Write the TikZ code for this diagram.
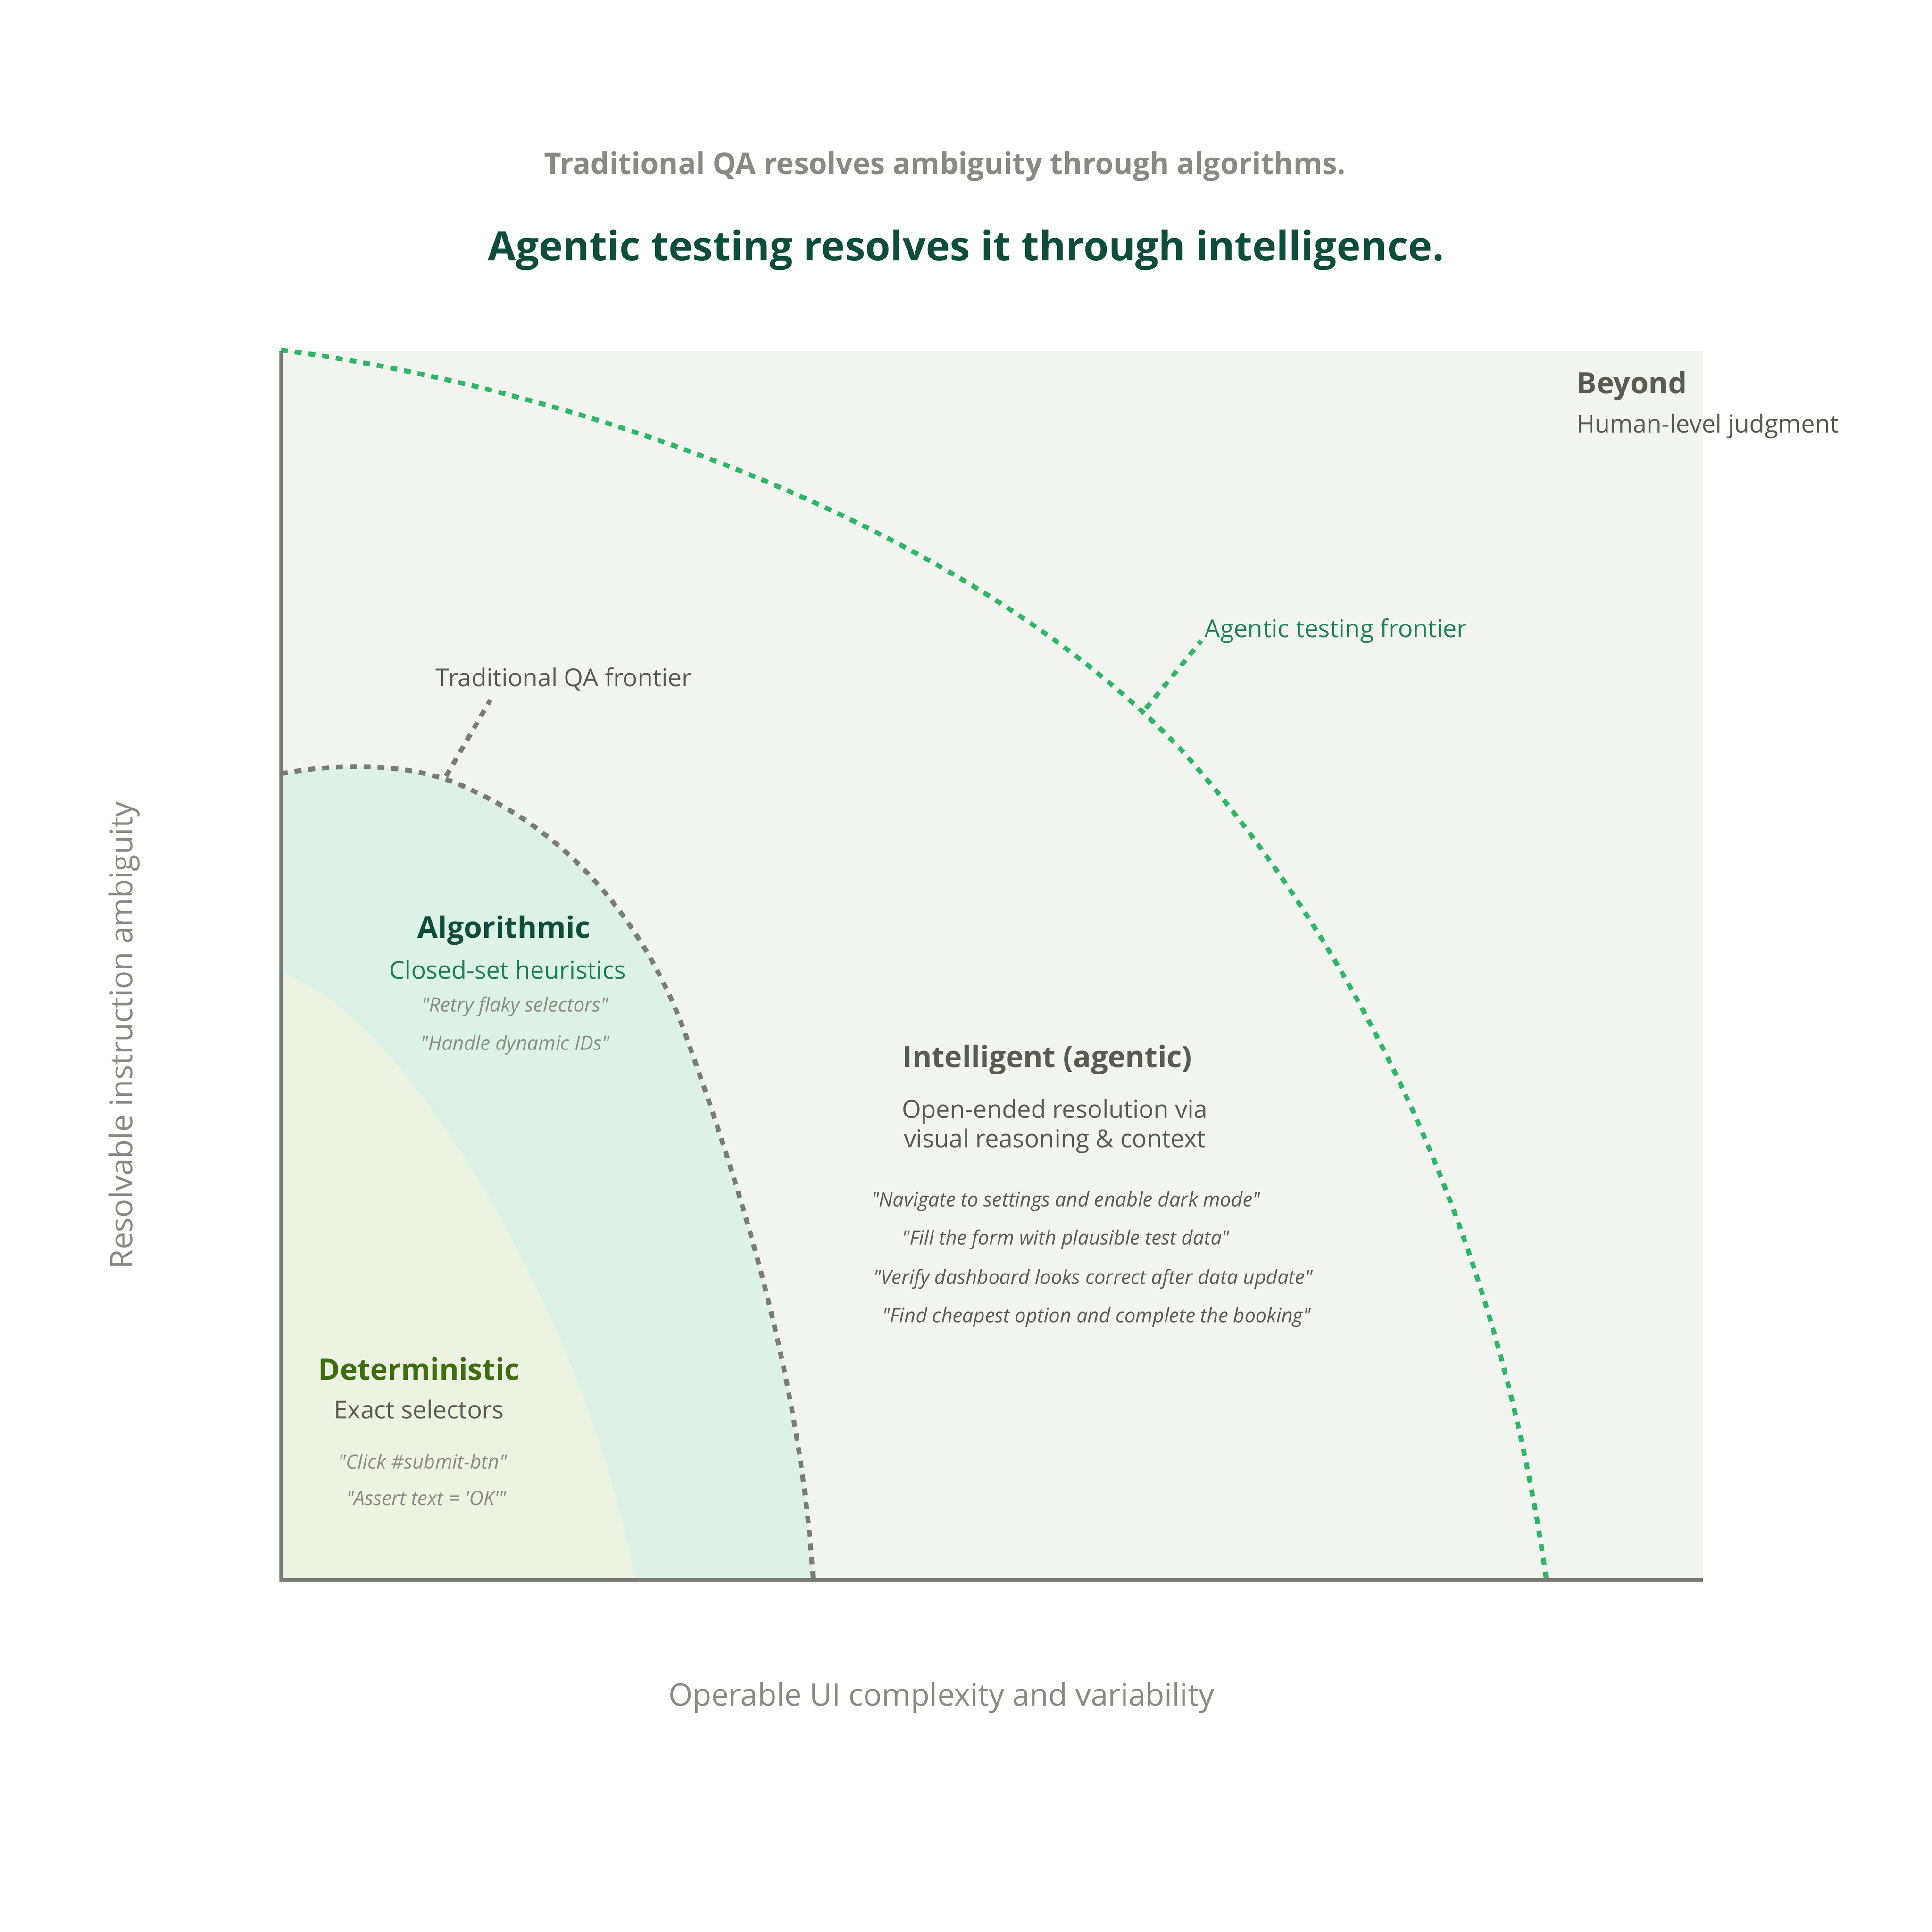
\documentclass[tikz,border=0pt]{standalone}
\usepackage{fontspec}
\setmainfont{Open Sans}
\begin{document}
\newcommand{\fpx}[1]{\fontsize{\dimexpr #1\dimexpr 0.2845pt\relax\relax}{\dimexpr #1\dimexpr 0.34pt\relax\relax}\selectfont}
\newcommand{\dq}{\textquotedbl}
\definecolor{bgc}{HTML}{F2F4EF}
\definecolor{detc}{HTML}{EDF3E3}
\definecolor{algc}{HTML}{DDF2E6}
\definecolor{agc}{HTML}{2DB665}
\definecolor{ttl}{HTML}{0E4D3A}
\definecolor{sub}{HTML}{8A8A84}
\definecolor{lab}{HTML}{5A5A55}
\definecolor{grn}{HTML}{1E7F5A}
\definecolor{detg}{HTML}{3F6E12}
\definecolor{axc}{HTML}{7A7A76}
\begin{tikzpicture}[x={(0.01cm,0)},y={(0,-0.01cm)},
  t/.style={inner sep=0pt},
  frontier/.style={line width=1.1pt,dash pattern=on 1.6pt off 1.6pt},
  q/.style={t,font=\fpx{16}\itshape,color=sub},
  qi/.style={t,font=\fpx{16}\itshape,color=lab}]
\useasboundingbox[fill=white] (0,0) rectangle (1568,1568);
\fill[bgc] (228,285) rectangle (1382,1282);
\fill[algc] (228,628) .. controls (280,618) and (340,620) .. (380,640) .. controls (470,680) and (530,760) .. (560,850) .. controls (610,990) and (650,1130) .. (660,1282) -- (228,1282) -- cycle;
\fill[detc] (228,790) .. controls (330,820) and (480,1080) .. (515,1282) -- (228,1282) -- cycle;
\coordinate (tA) at (228,628);
\coordinate (tB) at (660,1282);
\draw[frontier,axc] (tA) .. controls (280,618) and (340,620) .. (380,640) .. controls (470,680) and (530,760) .. (560,850) .. controls (610,990) and (650,1130) .. (tB);
\coordinate (aA) at (228,284);
\coordinate (aB) at (1255,1282);
\draw[frontier,agc] (aA) .. controls (500,320) and (800,440) .. (960,610) .. controls (1120,790) and (1220,1030) .. (aB);
\coordinate (o) at (228,1282);
\coordinate (yt) at (228,285);
\coordinate (xr) at (1382,1282);
\draw[axc,line width=0.8pt] (yt) -- (o) -- (xr);
\coordinate (l1a) at (362,630); \coordinate (l1b) at (398,568);
\draw[frontier,axc] (l1a) -- (l1b);
\coordinate (l2a) at (930,575); \coordinate (l2b) at (975,520);
\draw[frontier,agc] (l2a) -- (l2b);
\node[t,font=\fpx{24}\bfseries,color=sub] (sub) at (767,135) {Traditional QA resolves ambiguity through algorithms.};
\node[t,font=\fpx{33}\bfseries,color=ttl] (ttl) at (784,203) {Agentic testing resolves it through intelligence.};
\node[t,font=\fpx{25},color=sub] (xl) at (764,1378) {Operable UI complexity and variability};
\node[t,font=\fpx{25},color=sub,rotate=90] (yl) at (101,840) {Resolvable instruction ambiguity};
\node[t,anchor=west,font=\fpx{24}\bfseries,color=lab] (bey) at (1279,313) {Beyond};
\node[t,anchor=west,font=\fpx{20},color=lab] (beys) at (1279,346) {Human-level judgment};
\node[t,anchor=west,font=\fpx{20},color=grn] (agl) at (977,512) {Agentic testing frontier};
\node[t,anchor=west,font=\fpx{20},color=lab] (tql) at (353,551) {Traditional QA frontier};
\node[t,font=\fpx{24}\bfseries,color=ttl] (alg) at (409,755) {Algorithmic};
\node[t,font=\fpx{20},color=grn] (algs) at (412,787) {Closed-set heuristics};
\node[q] (aq1) at (418,817) {\dq Retry flaky selectors\dq};
\node[q] (aq2) at (418,848) {\dq Handle dynamic IDs\dq};
\node[t,font=\fpx{24}\bfseries,color=lab] (int) at (850,860) {Intelligent (agentic)};
\node[t,font=\fpx{20},color=lab,align=center] (ints) at (856,914) {Open-ended resolution via\\visual reasoning \& context};
\node[qi] (iq1) at (865,975) {\dq Navigate to settings and enable dark mode\dq};
\node[qi] (iq2) at (865,1006) {\dq Fill the form with plausible test data\dq};
\node[qi] (iq3) at (887,1038) {\dq Verify dashboard looks correct after data update\dq};
\node[qi] (iq4) at (890,1069) {\dq Find cheapest option and complete the booking\dq};
\node[t,font=\fpx{24}\bfseries,color=detg] (det) at (340,1111) {Deterministic};
\node[t,font=\fpx{20},color=lab] (dets) at (340,1144) {Exact selectors};
\node[q] (dq1) at (343,1186) {\dq Click \#submit-btn\dq};
\node[q] (dq2) at (346,1216) {\dq Assert text = \textquotesingle OK\textquotesingle\dq};
\end{tikzpicture}
\end{document}
